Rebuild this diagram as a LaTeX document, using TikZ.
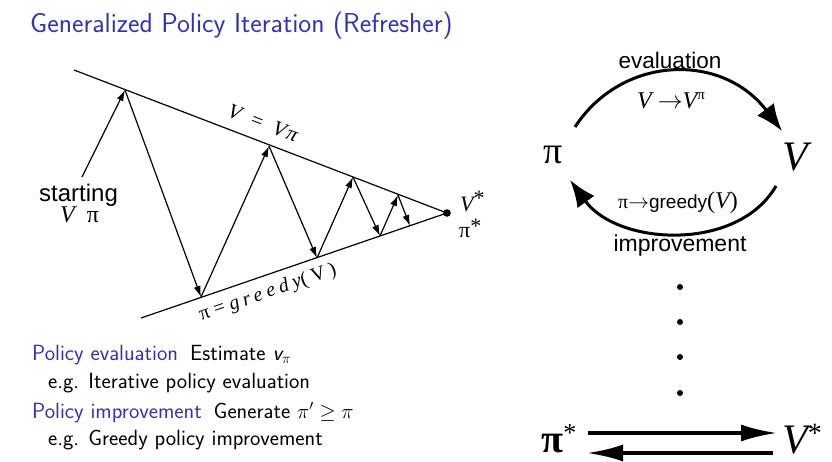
\documentclass[tikz,border=0pt]{standalone}
\usepackage{fontspec}
\newfontfamily\arial{Liberation Sans}
\newfontfamily\tnr{Liberation Serif}
\usetikzlibrary{arrows.meta}
\definecolor{beamerblue}{rgb}{0.2,0.2,0.7}
\tikzset{
  zz/.style={line width=1.2pt,-{Latex[length=11pt,width=7pt]}},
  rail/.style={line width=1.2pt},
  bigarc/.style={line width=3pt,-{Latex[length=27pt,width=21pt]}},
  flat/.style={line width=3.5pt,-{Latex[length=36pt,width=17pt]}},
  lbl/.style={inner sep=0pt},
  bl/.style={inner sep=0pt,anchor=base west}
}
\begin{document}
\begin{tikzpicture}[x=1pt,y=-1pt]
\useasboundingbox (0,0) rectangle (832,462);
% title
\node[bl,text=beamerblue] (title) at (30,33) {\fontsize{27.4}{30}\selectfont\sffamily Generalized Policy Iteration (Refresher)};

% left diagram
\coordinate (tl) at (74,70);
\coordinate (bL) at (141,318);
\coordinate (tip) at (447,213);
\draw[rail] (tl) -- (tip);
\draw[rail] (bL) -- (tip);
\fill (tip) circle (3.8);
\coordinate (s0) at (82,177);
\coordinate (t1) at (125,90);
\coordinate (b1) at (201,297);
\coordinate (t2) at (269,146);
\coordinate (b2) at (317,258);
\coordinate (t3) at (353,177);
\coordinate (b3) at (380,236);
\coordinate (t4) at (398,195);
\coordinate (b4) at (410,226);
\draw[zz] (s0) -- (t1);
\draw[zz] (t1) -- (b1);
\draw[zz] (b1) -- (t2);
\draw[zz] (t2) -- (b2);
\draw[zz] (b2) -- (t3);
\draw[zz] (t3) -- (b3);
\draw[zz] (b3) -- (t4);
\draw[zz] (t4) -- (b4);

\node[lbl,rotate=-21] (vlab) at (263,123) {\fontsize{21}{24}\selectfont\tnr\itshape V\enspace=\enspace V\/π};
\node[lbl,rotate=19] (glab) at (268,293) {\fontsize{20}{24}\selectfont\tnr π = \addfontfeatures{LetterSpace=22}\itshape greedy\upshape(V)};
\node[bl] (start) at (39,202) {\fontsize{24}{28}\selectfont\arial starting};
\node[bl] (vpi) at (60,223) {\fontsize{24}{28}\selectfont\tnr\itshape V\enspace\upshape π};
\node[lbl,anchor=west] (vstar) at (460,201) {\fontsize{22}{24}\selectfont\tnr\itshape V\upshape\raisebox{6pt}{*}};
\node[lbl,anchor=west] (pistar) at (459,228) {\fontsize{22}{24}\selectfont\tnr π\raisebox{4pt}{*}};

% right cycle
\node[lbl] (pi) at (553,155) {\fontsize{38}{40}\selectfont\tnr π};
\node[lbl] (V) at (795,157) {\fontsize{42}{44}\selectfont\tnr\itshape V};
\coordinate (a1s) at (575,127);
\coordinate (a1e) at (782,131);
\coordinate (a2s) at (776,186);
\coordinate (a2e) at (570,180);
\draw[bigarc] (a1s) .. controls (622,55) and (722,52) .. (a1e);
\draw[bigarc] (a2s) .. controls (738,252) and (618,246) .. (a2e);
\node[lbl] (eval) at (670,60) {\fontsize{22.5}{24}\selectfont\arial evaluation};
\node[lbl] (vvpi) at (671,101) {\fontsize{24}{26}\selectfont\tnr\itshape V \upshape$\rightarrow$\itshape V\raisebox{9pt}{\fontsize{15}{15}\selectfont\upshape π}};
\node[lbl] (pgv) at (678,203) {\fontsize{20}{22}\selectfont\tnr π$\rightarrow$\fontsize{19}{20}\selectfont\arial greedy\fontsize{24}{24}\selectfont\tnr(\itshape V\upshape)};
\node[lbl] (impr) at (680,246) {\fontsize{23}{26}\selectfont\arial improvement};
\foreach \y/\n in {287/d1,322/d2,357/d3,393/d4} \fill (680,\y) circle (3) coordinate (\n);

% bottom pair
\node[lbl] (pis) at (559,439) {\fontsize{40}{40}\selectfont\tnr\bfseries π\raisebox{11pt}{\fontsize{26}{26}\selectfont\mdseries *}};
\node[lbl] (Vs) at (802,439) {\fontsize{42}{44}\selectfont\tnr\itshape V\upshape\raisebox{11pt}{\fontsize{28}{28}\selectfont *}};
\coordinate (p1s) at (588,433);
\coordinate (p1e) at (777,433);
\coordinate (p2s) at (773,453);
\coordinate (p2e) at (587,453);
\draw[flat] (p1s) -- (p1e);
\draw[flat] (p2s) -- (p2e);

% bottom-left text
\node[bl] (r1) at (32,360) {\fontsize{22}{24}\selectfont\sffamily\textcolor{beamerblue}{Policy evaluation}\hspace{12pt}Estimate {\itshape v}$_\pi$};
\node[bl] (r2) at (48,388) {\fontsize{22}{24}\selectfont\sffamily e.g. Iterative policy evaluation};
\node[bl] (r3) at (32,418) {\fontsize{22}{24}\selectfont\sffamily\textcolor{beamerblue}{Policy improvement}\hspace{12pt}Generate $\pi'\geq\pi$};
\node[bl] (r4) at (48,445) {\fontsize{22}{24}\selectfont\sffamily e.g. Greedy policy improvement};
\end{tikzpicture}
\end{document}
